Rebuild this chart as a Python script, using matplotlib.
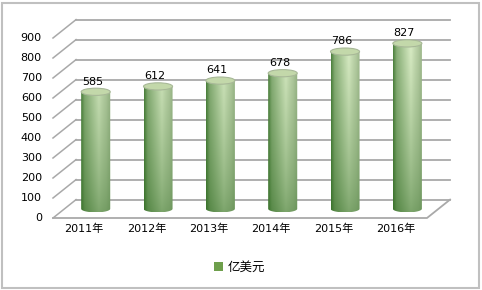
import numpy as np
import matplotlib
matplotlib.use("Agg")
import matplotlib.pyplot as plt
from matplotlib.patches import Ellipse, Rectangle, Patch
from matplotlib.path import Path
from matplotlib.colors import to_rgb

plt.rcParams['font.family'] = ['DejaVu Sans', 'Noto Sans CJK SC']

# data
years = ['2011年', '2012年', '2013年', '2014年', '2015年', '2016年']
values = [585, 612, 641, 678, 786, 827]
yticks = list(range(0, 901, 100))
series_name = '亿美元'

# fake 3d geometry (in data units)
depth_x = 0.37    # back wall shift in category units
depth_y = 92      # back wall shift in value units
half_w = 0.233    # cylinder half width
ell_ry = 18       # cylinder cap half height

grid_c = '#a9a9a9'
dark = np.array(to_rgb('#2a661c'))
light = np.array(to_rgb('#d8ebc4'))
grey = np.array(to_rgb('#a2b190'))

fig = plt.figure(figsize=(4.82, 2.9), dpi=100)
ax = fig.add_axes([53 / 482, 72 / 290, 374 / 482, 180 / 290])
ax.set_axis_off()

x0, x1 = -0.5, len(years) - 0.5

# back wall grid + left side diagonals
for v in yticks:
    ax.plot([x0 + depth_x, x1 + depth_x], [v + depth_y, v + depth_y], color=grid_c, lw=1.3,
            clip_on=False, zorder=1)
    ax.plot([x0, x0 + depth_x], [v, v + depth_y], color=grid_c, lw=1.1, clip_on=False, zorder=1)
    ax.text(x0 - 0.18, v, str(v), ha='right', va='center', fontsize=8)

# floor edges
ax.plot([x0, x1, x1 + depth_x], [0, 0, depth_y], color=grid_c, lw=1.3, clip_on=False, zorder=1)

# horizontal shading profile of the cylinder
nx, ny = 60, 200
t = np.linspace(0, 1, nx)
w = np.interp(t, [0, 0.12, 0.6, 0.85, 1], [0.2, 0.55, 1.0, 0.82, 0.6])
grey_mix = np.interp(t, [0, 0.6, 1], [0, 0, 0.45])

for i, val in enumerate(values):
    c = i + depth_x / 2
    base = depth_y / 2
    top = base + val
    # vertical fade: darker toward the floor
    ys = np.linspace(base - ell_ry, top, ny)
    s = np.clip(ys / 850, 0, 1)
    k = (0.42 + 0.58 * s ** 0.7)[:, None] * w[None, :]
    img = dark[None, None, :] + (light - dark)[None, None, :] * k[:, :, None]
    g = grey_mix[None, :, None] * (0.4 + 0.6 * s)[:, None, None]
    img = img * (1 - g) + grey[None, None, :] * g
    im = ax.imshow(img, extent=[c - half_w, c + half_w, base - ell_ry, top], origin='lower',
                   aspect='auto', interpolation='bilinear', zorder=3)
    # clip to cylinder body (sides + lower half ellipse)
    ang = np.linspace(np.pi, 2 * np.pi, 40)
    pts = [(c - half_w, top)]
    pts += [(c + half_w * np.cos(a), base + ell_ry * np.sin(a)) for a in ang]
    pts += [(c + half_w, top), (c - half_w, top)]
    clip = Path(pts, closed=True)
    im.set_clip_path(clip, transform=ax.transData)
    # top cap
    cap = Ellipse((c, top), 2 * half_w, 2 * ell_ry, facecolor='#c3d8aa', edgecolor='#a8b898',
                  lw=0.8, zorder=4, clip_on=False)
    ax.add_patch(cap)
    ax.text(c - 0.05, top + ell_ry + 8, str(val), ha='center', va='bottom', fontsize=8, zorder=5)

for i, lab in enumerate(years):
    ax.text(i, -55, lab, ha='center', va='center', fontsize=8)

ax.set_xlim(x0, x1)
ax.set_ylim(0, 900)

leg = fig.legend(handles=[Patch(facecolor='#6e9f4c', edgecolor='none', label=series_name)],
                 loc='center', bbox_to_anchor=(240 / 482, 1 - 267 / 290), frameon=False,
                 fontsize=9, handlelength=0.7, handleheight=0.7, handletextpad=0.4)

# outer border
fig.patches.append(Rectangle((2 / 482, 2 / 290), 477 / 482, 285 / 290, transform=fig.transFigure,
                             fill=False, edgecolor='#c0c0c0', lw=1.5))

fig.savefig('out.png', dpi=100)
